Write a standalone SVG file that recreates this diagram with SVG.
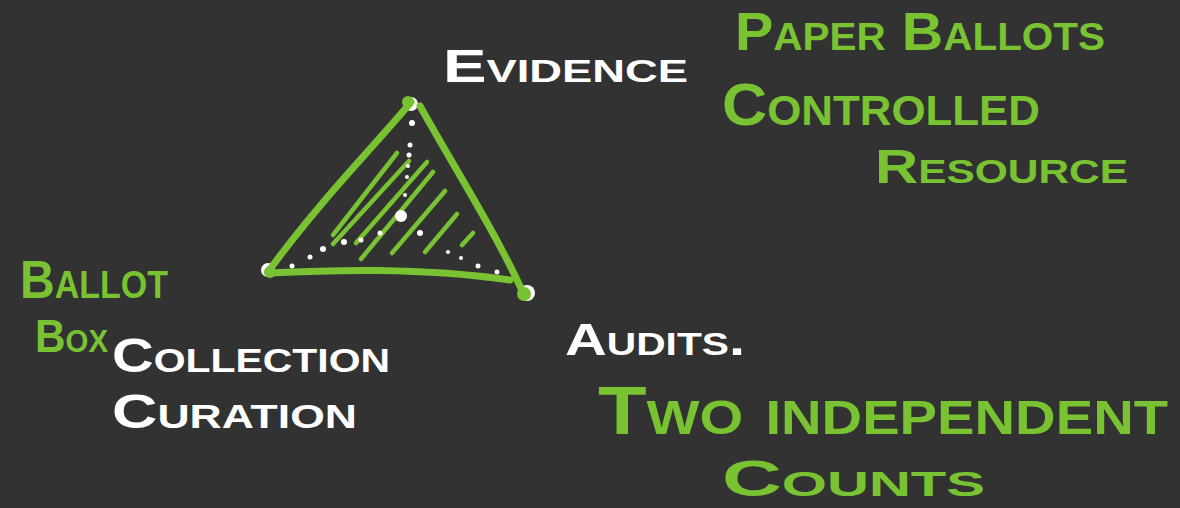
<svg xmlns="http://www.w3.org/2000/svg" width="1180" height="508" viewBox="0 0 1180 508">
<style>
.t{font-family:"Liberation Sans",Arial,sans-serif;font-weight:bold;font-variant:small-caps;}
.g{fill:#79c232;}
.w{fill:#ffffff;}
.gl{stroke:#79c232;fill:none;stroke-linecap:round;stroke-linejoin:round;}
.dot{fill:#ffffff;}
</style>
<rect width="1180" height="508" fill="#323232"/>
<g id="triangle">
  <circle cx="411" cy="104" r="7" fill="#ffffff"/>
  <circle cx="268" cy="270" r="7" fill="#ffffff"/>
  <circle cx="527" cy="293" r="8" fill="#ffffff"/>
  <g class="gl" stroke-width="7">
    <path d="M411 102 C 380 140, 320 200, 268 272"/>
    <path d="M268 273 C 330 270, 420 267, 510 280"/>
    <path d="M420 106 C 450 160, 500 240, 524 295"/>
  </g>
  <circle cx="408" cy="102" r="6" fill="#79c232"/>
  <circle cx="270" cy="272" r="6" fill="#79c232"/>
  <circle cx="524" cy="294" r="7" fill="#79c232"/>
  <g class="gl" stroke-width="4.5">
    <path d="M397 153 L 333 235"/>
    <path d="M409 161 L 333 244"/>
    <path d="M427 162 L 356 243"/>
    <path d="M433 172 L 361 259"/>
    <path d="M445 191 L 392 253"/>
    <path d="M457 214 L 425 252"/>
    <path d="M473 233 L 462 245"/>
  </g>
  <g class="dot">
    <circle cx="412" cy="123" r="3"/>
    <circle cx="410" cy="145" r="2.5"/>
    <circle cx="409" cy="155" r="2.5"/>
    <circle cx="408" cy="166" r="2"/>
    <circle cx="407" cy="177" r="2"/>
    <circle cx="405" cy="195" r="2"/>
    <circle cx="401" cy="216" r="6"/>
    <circle cx="292" cy="266" r="2.5"/>
    <circle cx="310" cy="257" r="2.5"/>
    <circle cx="323" cy="249" r="3"/>
    <circle cx="344" cy="242" r="3"/>
    <circle cx="361" cy="240" r="2.5"/>
    <circle cx="380" cy="233" r="2.5"/>
    <circle cx="420" cy="233" r="3"/>
    <circle cx="448" cy="252" r="2"/>
    <circle cx="461" cy="258" r="2"/>
    <circle cx="478" cy="266" r="2.5"/>
    <circle cx="497" cy="272" r="2.5"/>
  </g>
</g>
<g id="evidence"><text class="t w" x="443" y="82" font-size="46" textLength="245" lengthAdjust="spacingAndGlyphs">Evidence</text></g>
<g id="paper-ballots">
  <text class="t g" x="735" y="50" font-size="54" textLength="370" lengthAdjust="spacingAndGlyphs">Paper Ballots</text>
  <text class="t g" x="722" y="125" font-size="60" textLength="318" lengthAdjust="spacingAndGlyphs">Controlled</text>
  <text class="t g" x="875" y="183" font-size="48" textLength="253" lengthAdjust="spacingAndGlyphs">Resource</text>
</g>
<g id="ballot-box">
  <text class="t g" x="20" y="298" font-size="54" textLength="148" lengthAdjust="spacingAndGlyphs">Ballot</text>
  <text class="t g" x="35" y="352" font-size="46" textLength="73" lengthAdjust="spacingAndGlyphs">Box</text>
</g>
<g id="collection">
  <text class="t w" x="112" y="372" font-size="48" textLength="278" lengthAdjust="spacingAndGlyphs">Collection</text>
  <text class="t w" x="112" y="428" font-size="48" textLength="245" lengthAdjust="spacingAndGlyphs">Curation</text>
</g>
<g id="audits"><text class="t w" x="565" y="355" font-size="44" textLength="180" lengthAdjust="spacingAndGlyphs">Audits.</text></g>
<g id="two-counts">
  <text class="t g" x="598" y="434" font-size="68" textLength="570" lengthAdjust="spacingAndGlyphs">Two independent</text>
  <text class="t g" x="722" y="496" font-size="50" textLength="263" lengthAdjust="spacingAndGlyphs">Counts</text>
</g>
</svg>
